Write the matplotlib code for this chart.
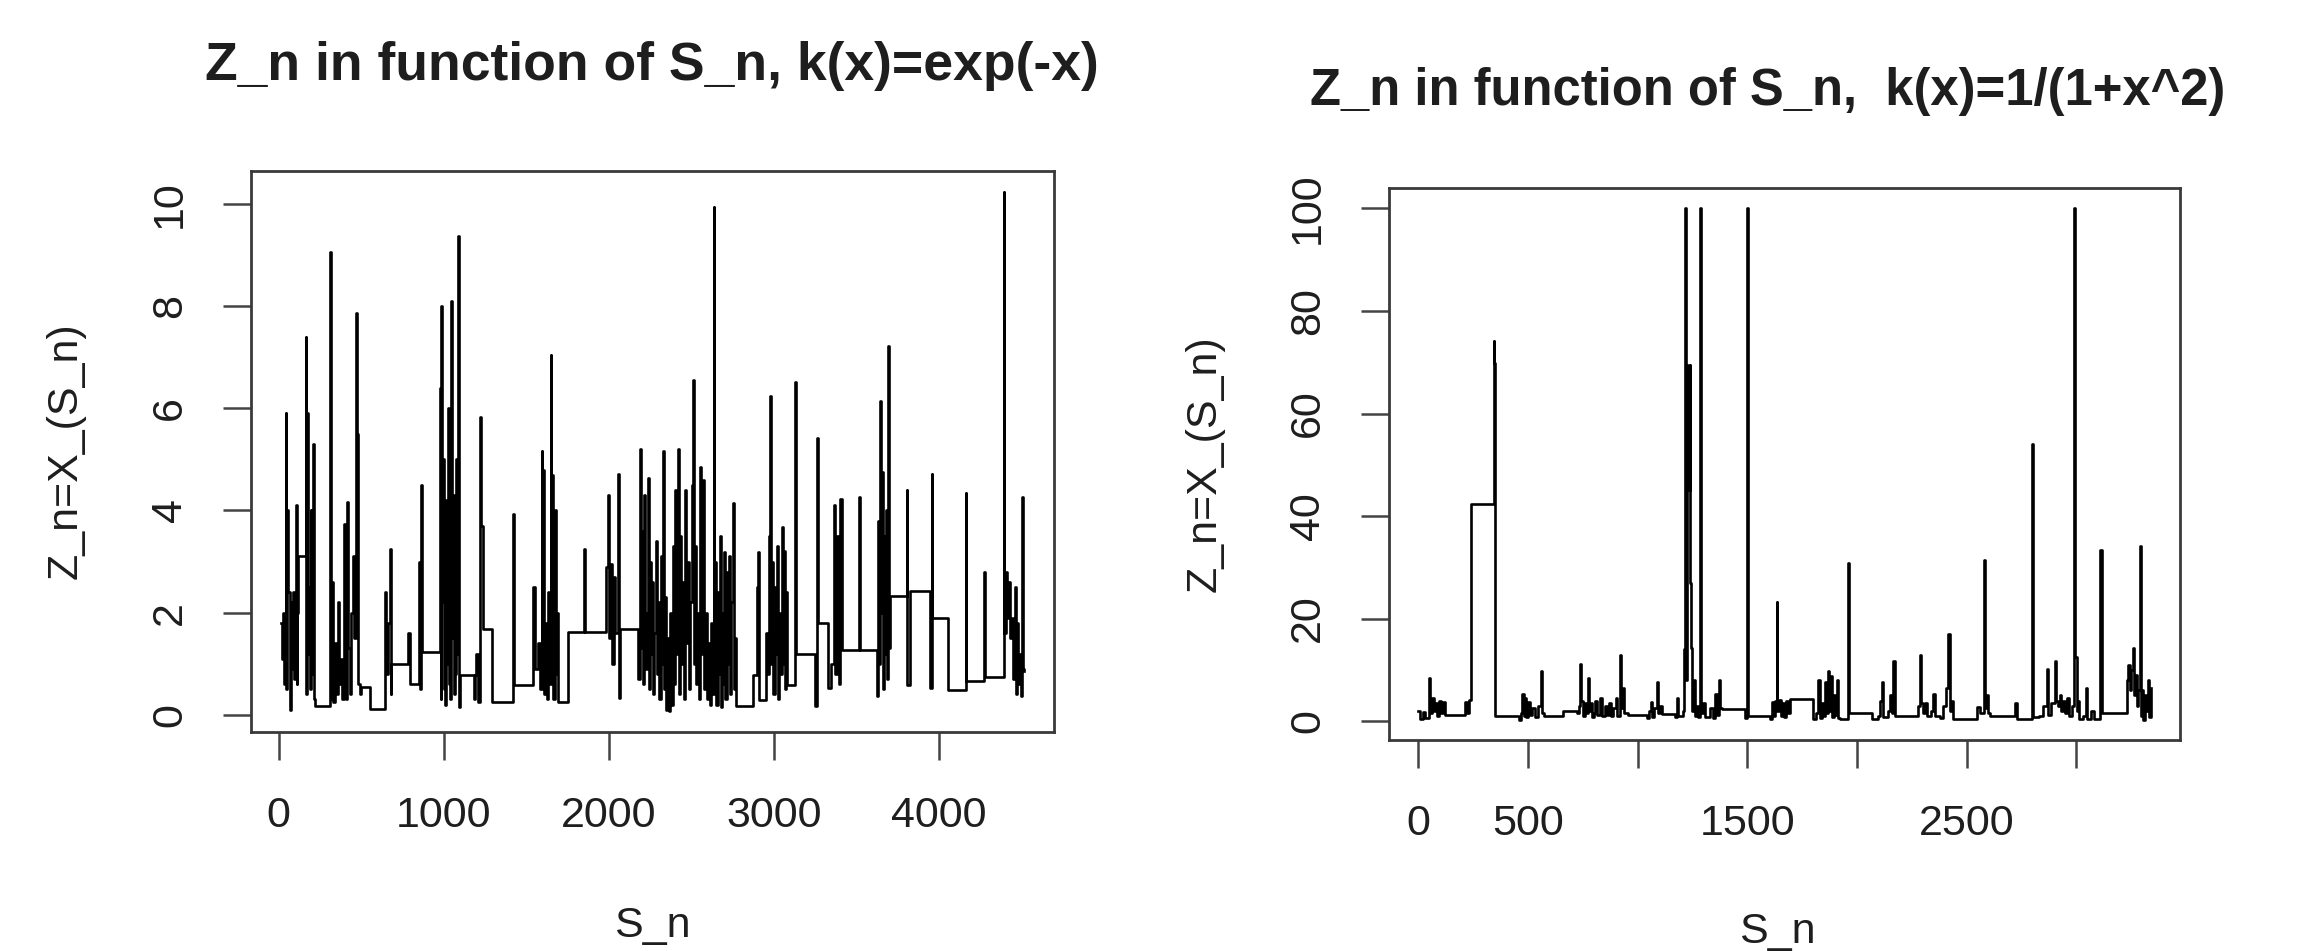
import matplotlib
matplotlib.use('Agg')
import matplotlib.pyplot as plt

# ---- data: left panel, k(x)=exp(-x)
s_exp = [12, 18, 24, 30, 36, 42, 46, 52, 58, 66, 72, 78, 84, 90, 96, 103, 108, 112, 117,
         163, 168, 172, 177, 182, 188, 193, 198, 203, 208, 214, 222,
         309, 315, 320, 327, 340, 350, 358, 366, 375, 385, 394, 400, 406, 412, 420, 430, 440, 448, 456,
         466, 472, 478, 490, 501, 551,
         642, 650, 660, 672, 678, 683, 784, 794, 850, 856, 864, 870,
         975, 980, 985, 990, 995, 1000, 1005, 1010, 1015, 1020, 1025, 1030, 1035, 1040, 1046, 1050,
         1055, 1060, 1065, 1070, 1075, 1080, 1087, 1092, 1097, 1185, 1192, 1198, 1210, 1218, 1224,
         1238, 1289, 1420, 1425,
         1541, 1552, 1570, 1580, 1592, 1598, 1604, 1610, 1618, 1626, 1634, 1640, 1648, 1652, 1658,
         1664, 1672, 1678, 1684, 1693, 1753, 1850, 1858,
         1985, 1996, 2002, 2010, 2020, 2030, 2040, 2056, 2060, 2066,
         2177, 2187, 2192, 2198, 2204, 2210, 2216, 2222, 2230, 2238, 2244, 2250, 2256, 2262, 2268,
         2276, 2284, 2290, 2298, 2306, 2314, 2322, 2329, 2334, 2340, 2346, 2354, 2362, 2370, 2378,
         2386, 2392, 2400, 2406, 2412, 2420, 2426, 2434, 2440, 2448, 2456, 2464, 2470, 2478, 2486,
         2494, 2502, 2511, 2516, 2521, 2528, 2536, 2544, 2551, 2556, 2563, 2571, 2578, 2586, 2594,
         2602, 2610, 2620, 2628, 2636, 2640, 2646, 2652, 2660, 2666, 2672, 2678, 2686, 2692, 2700,
         2706, 2714, 2720, 2728, 2734, 2742, 2753, 2760, 2766, 2773,
         2874, 2895, 2905, 2910, 2955, 2962, 2970, 2979, 2984, 2990, 2996, 3004, 3010, 3018, 3024,
         3032, 3040, 3050, 3056, 3062, 3068, 3074, 3080, 3127, 3132, 3137, 3248, 3262, 3266, 3270,
         3330, 3345, 3365, 3370, 3385, 3395, 3403, 3410, 3517, 3521, 3622, 3630, 3636, 3642, 3648,
         3654, 3660, 3668, 3674, 3680, 3686, 3692, 3697, 3702, 3804, 3809, 3824, 3945, 3955, 3960,
         4056, 4163, 4167, 4274, 4278, 4393, 4397, 4404, 4410, 4420, 4430, 4440, 4450, 4460, 4466,
         4474, 4480, 4490, 4498, 4506, 4510, 4517]
z_exp = [1.8, 1.1, 2.0, 0.6, 1.5, 5.9, 0.5, 4.0, 2.4, 0.1, 2.2, 0.9, 2.4, 0.7, 1.8, 4.1, 0.6, 2.0, 3.1,
         7.4, 0.4, 5.9, 1.2, 2.5, 0.5, 4.0, 0.8, 2.0, 5.3, 0.3, 0.18,
         9.06, 0.3, 2.6, 0.25, 1.4, 0.4, 2.2, 0.6, 1.1, 0.3, 3.74, 1.2, 0.3, 4.17, 1.3, 0.4, 2.0, 3.1, 1.5,
         7.86, 5.5, 0.6, 0.4, 0.55, 0.11,
         2.4, 0.8, 1.8, 3.25, 0.4, 1.0, 1.6, 0.6, 3.0, 0.5, 4.5, 1.23,
         6.4, 0.3, 8.0, 2.2, 5.0, 0.5, 3.5, 0.2, 4.2, 1.0, 6.0, 0.6, 3.0, 0.3, 8.1, 1.5,
         4.3, 0.4, 2.8, 0.8, 5.0, 1.2, 9.37, 0.15, 0.78, 0.3, 0.78, 1.2, 0.25, 5.84, 3.7,
         1.68, 0.26, 3.93, 0.59,
         2.5, 0.9, 1.4, 0.5, 5.16, 1.0, 4.8, 0.4, 1.8, 0.3, 2.4, 0.6, 7.04, 1.5, 4.7,
         0.3, 4.0, 0.8, 2.0, 0.26, 1.63, 3.25, 1.63,
         2.9, 4.3, 1.5, 2.95, 1.0, 2.7, 1.6, 4.71, 0.33, 1.68,
         0.7, 5.2, 1.3, 3.6, 0.6, 2.4, 4.3, 0.9, 2.0, 4.64, 0.5, 3.0, 1.2, 2.6, 0.4,
         1.6, 3.4, 0.8, 2.2, 0.3, 3.1, 1.0, 5.16, 0.5, 2.3, 0.1, 1.5, 0.07, 2.0, 0.2,
         3.3, 0.6, 4.4, 1.2, 2.9, 5.2, 0.4, 3.5, 1.0, 2.6, 0.3, 4.4, 1.4, 3.0, 0.5,
         2.2, 4.5, 6.55, 1.0, 3.3, 0.6, 2.0, 0.3, 4.86, 1.2, 2.6, 4.6, 0.5, 2.0, 0.3,
         1.4, 0.2, 1.8, 0.4, 9.94, 1.7, 3.0, 0.2, 2.4, 0.8, 3.5, 0.15, 2.0, 0.6, 3.18,
         0.3, 2.8, 1.0, 3.1, 0.4, 2.2, 4.15, 0.5, 1.5, 0.18,
         0.78, 2.5, 3.18, 0.29, 1.6, 0.8, 3.5, 6.25, 1.0, 3.0, 0.4, 2.5, 1.2, 3.3, 0.3,
         2.0, 0.8, 3.67, 1.0, 3.2, 0.5, 2.4, 0.59, 6.51, 1.5, 1.19, 0.18, 5.42, 2.5, 1.79,
         0.52, 1.0, 4.1, 0.8, 3.5, 0.6, 4.23, 1.27, 4.26, 1.27, 0.37, 3.8, 1.0, 6.14, 2.0,
         4.75, 0.5, 3.5, 1.2, 4.0, 0.7, 7.22, 1.3, 2.32, 4.41, 0.59, 2.43, 0.52, 4.71, 1.9,
         0.48, 4.34, 0.67, 2.8, 0.74, 10.24, 1.6, 2.8, 1.9, 2.6, 1.5, 1.9, 0.7, 2.5, 0.4,
         1.8, 0.6, 1.2, 0.37, 4.26, 0.9, 0.86]

# ---- right panel, k(x)=1/(1+x^2)
s_cau = [0, 8, 20, 30, 47, 52, 62, 70, 78, 86, 95, 104, 112, 123, 214, 222, 230, 240, 343, 345, 350,
         457, 468, 474, 480, 486, 492, 500, 508, 520, 534, 545, 559, 564, 571, 662, 723, 732, 738,
         742, 750, 760, 768, 776, 780, 786, 792, 800, 808, 816, 830, 838, 850, 860, 870, 880, 890,
         900, 908, 920, 925, 932, 940, 958, 1042, 1050, 1060, 1068, 1076, 1090, 1095, 1102, 1110,
         1170, 1179, 1185, 1205, 1212, 1217, 1221, 1226, 1232, 1237, 1241, 1245, 1250, 1256, 1262,
         1270, 1276, 1285, 1290, 1300, 1308, 1330, 1345, 1355, 1362, 1373, 1378, 1384, 1490, 1498,
         1503, 1604, 1612, 1620, 1628, 1634, 1638, 1645, 1652, 1660, 1668, 1676, 1684, 1696, 1802,
         1815, 1825, 1830, 1840, 1848, 1855, 1860, 1867, 1872, 1880, 1886, 1894, 1902, 1910, 1916,
         1925, 1961, 1965, 2068, 2095, 2105, 2113, 2118, 2140, 2150, 2158, 2166, 2172, 2280, 2288,
         2293, 2300, 2312, 2320, 2340, 2349, 2355, 2380, 2395, 2405, 2417, 2424, 2432, 2440, 2546,
         2560, 2580, 2586, 2595, 2600, 2607, 2721, 2728, 2797, 2802, 2830, 2850, 2865, 2870, 2885,
         2903, 2908, 2915, 2925, 2932, 2940, 2950, 2960, 2968, 2980, 2991, 2994, 2997, 3002, 3008,
         3014, 3030, 3044, 3050, 3070, 3080, 3108, 3116, 3230, 3237, 3244, 3250, 3257, 3263, 3270,
         3276, 3283, 3290, 3295, 3300, 3306, 3314, 3320, 3328, 3334, 3340]
z_cau = [2.0, 0.5, 1.8, 0.6, 8.5, 1.5, 4.6, 2.0, 3.5, 1.0, 4.0, 1.5, 3.8, 1.2, 3.8, 1.5, 4.2, 42.4, 74.2, 69.8, 1.0,
         0.3, 1.5, 5.3, 1.0, 4.6, 0.8, 3.8, 1.2, 2.5, 0.8, 3.0, 9.8, 1.5, 1.0, 2.0, 1.5, 3.0, 11.2,
         4.0, 1.0, 3.5, 1.5, 8.4, 2.0, 3.5, 0.8, 1.5, 4.0, 1.2, 4.6, 1.0, 3.0, 1.2, 3.5, 1.0, 2.5,
         4.6, 1.0, 12.8, 2.5, 6.5, 1.5, 1.2, 0.6, 2.0, 3.8, 0.8, 2.5, 7.6, 1.5, 3.0, 1.4,
         0.8, 4.6, 1.0, 2.0, 14.0, 100, 8.0, 69.4, 45.0, 69.4, 27.0, 14.3, 2.0, 8.0, 1.0,
         3.0, 0.8, 100, 1.5, 3.5, 0.8, 2.5, 0.6, 5.3, 1.2, 8.0, 2.5, 2.4, 0.6, 100,
         1.0, 0.5, 3.8, 1.0, 4.0, 23.3, 2.0, 4.2, 1.0, 3.5, 0.8, 4.0, 1.5, 4.4, 0.5,
         1.5, 8.0, 0.6, 3.5, 1.0, 7.6, 1.5, 9.8, 2.0, 8.7, 0.8, 5.0, 1.2, 8.0, 0.6,
         0.5, 30.8, 1.6, 0.4, 1.0, 4.0, 7.6, 0.8, 2.0, 5.0, 1.5, 11.7, 1.0, 3.0, 12.8,
         3.5, 1.5, 3.5, 1.0, 2.0, 5.3, 1.0, 0.6, 3.0, 6.5, 17.0, 2.0, 4.0, 0.5, 2.7,
         1.5, 31.5, 2.5, 5.0, 1.5, 1.0, 3.5, 0.5, 54.0, 0.8, 1.0, 3.0, 10.2, 1.2, 3.5,
         11.7, 4.0, 3.0, 5.0, 2.0, 4.0, 1.5, 4.6, 1.0, 3.0, 100, 40.5, 12.5, 2.0, 4.0,
         0.5, 1.0, 6.5, 0.5, 2.0, 0.5, 33.4, 1.6, 8.0, 11.0, 6.0, 10.0, 14.3, 5.0, 9.0,
         3.0, 6.0, 34.2, 1.0, 6.1, 0.3, 5.0, 2.0, 8.0, 0.8, 6.5]

exp_xticks = [0, 1000, 2000, 3000, 4000]
exp_yticks = [0, 2, 4, 6, 8, 10]
cau_xticks = [0, 500, 1000, 1500, 2000, 2500, 3000]
cau_xlabels = ['0', '500', '', '1500', '', '2500', '']
cau_yticks = [0, 20, 40, 60, 80, 100]

plt.rcParams['font.family'] = ['Liberation Sans', 'DejaVu Sans']
TXT = '#1e1e1e'
W, H = 2298, 951

fig = plt.figure(figsize=(W / 100, H / 100), dpi=100)
fig.patch.set_facecolor('white')


def panel(rect, s, z, xt, xl, yt):
    ax = fig.add_axes(rect)
    ax.step(s, z, where='post', color='black', lw=1.9)
    ax.margins(x=0.04, y=0.04)  # R style 4% padding
    ax.set_xticks(xt)
    ax.set_xticklabels(xl)
    ax.set_yticks(yt)
    ax.set_yticklabels([str(v) for v in yt], rotation=90, va='center')
    ax.tick_params(direction='out', length=20, width=1.8, color='#444444',
                   labelsize=31, labelcolor=TXT)
    ax.tick_params(axis='x', pad=26)
    ax.tick_params(axis='y', pad=24)
    for sp in ax.spines.values():
        sp.set_color('#3a3a3a')
        sp.set_linewidth(2.0)
    return ax


# left panel
ax1 = panel([251 / W, 1 - 732 / H, 803 / W, 561 / H], s_exp, z_exp,
            exp_xticks, [str(v) for v in exp_xticks], exp_yticks)
# right panel
ax2 = panel([1389 / W, 1 - 740 / H, 791 / W, 552 / H], s_cau, z_cau,
            cau_xticks, cau_xlabels, cau_yticks)

# titles and axis labels (R draws them in the outer margins)
fig.text(652 / W, 1 - 66 / H, 'Z_n in function of S_n, k(x)=exp(-x)',
         ha='center', va='center', fontsize=38.5, fontweight='bold', color=TXT)
fig.text(1768 / W, 1 - 91 / H, 'Z_n in function of S_n,  k(x)=1/(1+x^2)',
         ha='center', va='center', fontsize=36.5, fontweight='bold', color=TXT)
fig.text(652 / W, 1 - 926 / H, 'S_n', ha='center', va='center', fontsize=31, color=TXT)
fig.text(1777 / W, 1 - 932 / H, 'S_n', ha='center', va='center', fontsize=31, color=TXT)
fig.text(66 / W, 1 - 451 / H, 'Z_n=X_(S_n)', ha='center', va='center',
         rotation=90, fontsize=31, color=TXT)
fig.text(1205 / W, 1 - 464 / H, 'Z_n=X_(S_n)', ha='center', va='center',
         rotation=90, fontsize=31, color=TXT)

fig.savefig('out.png', dpi=100, facecolor='white')
